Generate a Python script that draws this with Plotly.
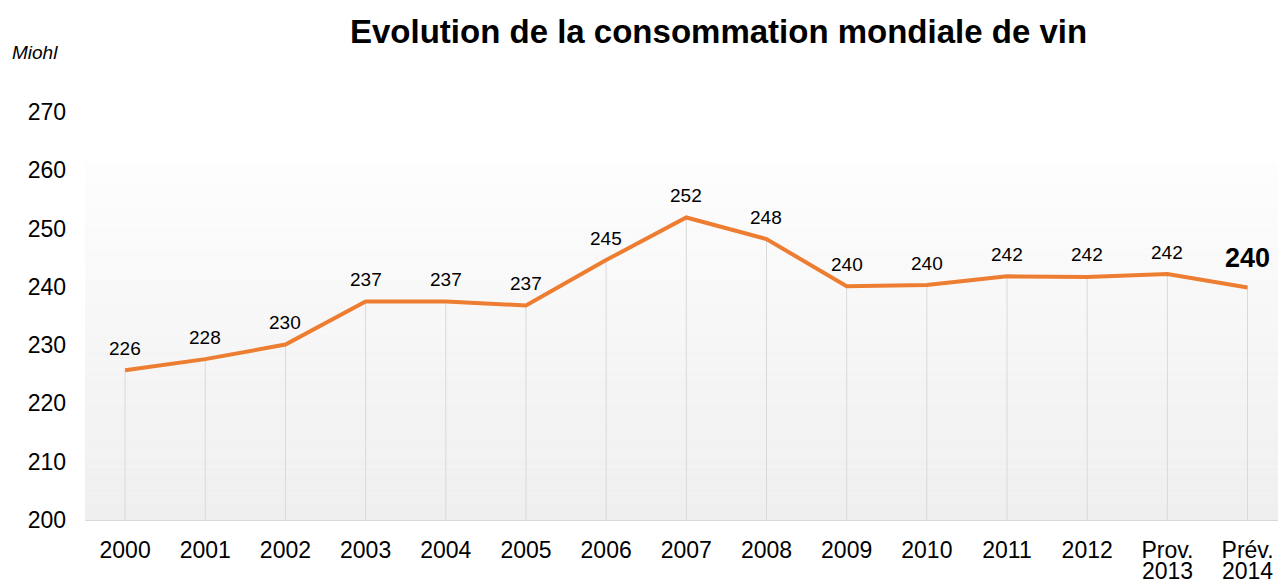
import plotly.graph_objects as go

categories = ["2000", "2001", "2002", "2003", "2004", "2005", "2006", "2007",
              "2008", "2009", "2010", "2011", "2012", "Prov. 2013", "Prév. 2014"]
values = [225.7, 227.6, 230.1, 237.5, 237.5, 236.8, 244.6, 251.9,
          248.2, 240.1, 240.3, 241.8, 241.7, 242.2, 239.9]
labels = ["226", "228", "230", "237", "237", "237", "245", "252",
          "248", "240", "240", "242", "242", "242", "240"]
y_ticks = [200, 210, 220, 230, 240, 250, 260, 270]
title = "Evolution de la consommation mondiale de vin"
unit = "Miohl"

W, H = 1278, 584
ML, MR, MT, MB = 85, 0, 112, 64
PW = W - ML - MR
FONT = "Liberation Sans, Arial"

x = list(range(len(categories)))
ymin, ymax = 200, 270

fig = go.Figure()

# background gradient strips
n = 40
g_top, g_bot = 261.2, 200.0
for i in range(n):
    y0 = g_bot + (g_top - g_bot) * i / n
    y1 = g_bot + (g_top - g_bot) * (i + 1) / n
    t = i / (n - 1)
    c0, c1 = 0xEF, 0xFD
    c = round(c0 + (c1 - c0) * t)
    fig.add_shape(type="rect", xref="paper", yref="y", x0=0, x1=1, y0=y0, y1=y1,
                  fillcolor=f"rgb({c},{c},{c})", line=dict(width=0), layer="below")

# drop lines
fig.add_trace(go.Scatter(
    x=x, y=values, mode="markers",
    marker=dict(size=1, opacity=0),
    error_y=dict(type="data", symmetric=False, array=[0] * len(values),
                 arrayminus=[v - ymin for v in values],
                 color="#d9d9d9", thickness=1, width=0),
    hoverinfo="skip", showlegend=False))

fig.add_trace(go.Scatter(
    x=x, y=values, mode="lines",
    line=dict(color="#ED7D31", width=4),
    showlegend=False))

annotations = []
for i, (xi, v, lab) in enumerate(zip(x, values, labels)):
    last = i == len(values) - 1
    annotations.append(dict(
        x=xi, y=v, text=f"<b>{lab}</b>" if last else lab, showarrow=False,
        yshift=29 if last else 22, yanchor="middle",
        font=dict(family=FONT, size=27 if last else 19, color="#000")))

# second line of two-line category labels
tick_first = []
for xi, cat in zip(x, categories):
    parts = cat.split(" ", 1)
    tick_first.append(parts[0])
    if len(parts) > 1:
        annotations.append(dict(
            x=xi, xref="x", yref="paper", y=0, yshift=-51, yanchor="middle",
            text=parts[1], showarrow=False,
            font=dict(family=FONT, size=23, color="#000")))

annotations.append(dict(
    xref="paper", yref="paper", x=(718 - ML) / PW, y=1, xanchor="center",
    yanchor="middle", yshift=MT - 31, text=f"<b>{title}</b>", showarrow=False,
    font=dict(family=FONT, size=33, color="#000")))
annotations.append(dict(
    xref="paper", yref="paper", x=(10 - ML) / PW, y=1, yshift=MT - 52,
    xanchor="left", yanchor="middle", text=f"<i>{unit}</i>", showarrow=False,
    font=dict(family=FONT, size=19, color="#000")))

fig.update_layout(
    width=W, height=H,
    margin=dict(l=ML, r=MR, t=MT, b=MB),
    paper_bgcolor="white", plot_bgcolor="white",
    font=dict(family=FONT, color="#000"),
    annotations=annotations,
)

fig.update_xaxes(
    range=[-0.5, 14.38], tickvals=x, ticktext=tick_first,
    showgrid=False, zeroline=False, showline=True, linecolor="#d9d9d9", linewidth=1,
    ticks="", tickfont=dict(size=23, color="#000"), ticklabelstandoff=9)
fig.update_yaxes(
    range=[ymin, ymax], tickvals=y_ticks, showgrid=False, zeroline=False,
    showline=False, ticks="", tickfont=dict(size=23, color="#000"), ticklabelstandoff=18)

fig.write_html("out.html", config={"displayModeBar": False},
               post_script="document.body.style.margin='0';document.body.style.overflow='hidden';")
